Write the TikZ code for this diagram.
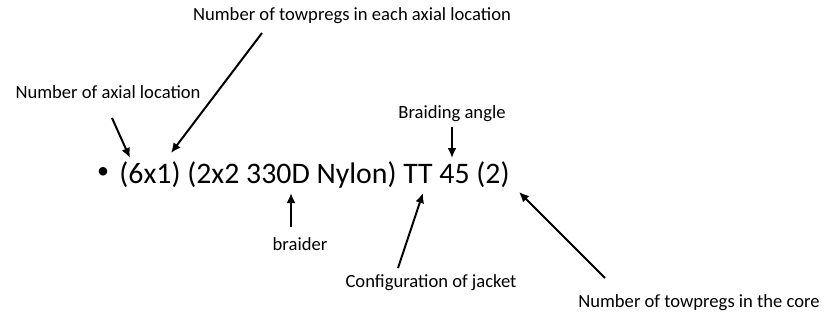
\documentclass[tikz,border=0pt]{standalone}
\usepackage{fontspec}
\setmainfont{Carlito}
\usetikzlibrary{arrows.meta,positioning}
\tikzset{
    pointer/.style={line width=1pt, -{Latex[length=5pt,width=4.5pt]}},
    note/.style={font=\fontsize{9.3}{11}\selectfont, inner sep=0pt, anchor=base},
    code/.style={font=\fontsize{14.9}{18}\selectfont, inner sep=0pt}
}

\begin{document}
\begin{tikzpicture}[x=0.5pt,y=-0.5pt]
    \useasboundingbox (0,0) rectangle (831,321);

    % Draw the code line.
    \node[font=\fontsize{12}{14}\selectfont, inner sep=0pt] (dot) at (103,173) {•};
    \node[code, anchor=base west] (spec) at (119,183) {(6x1) (2x2 330D Nylon) TT 45 (2)};

    % Draw the labels.
    \node[note] (each) at (352,20) {Number of towpregs in each axial location};
    \node[note] (axial) at (108,98) {Number of axial location};
    \node[note] (angle) at (452,118) {Braiding angle};
    \node[note] (braider) at (300,250) {braider};
    \node[note] (jacket) at (431,287) {Configuration of jacket};
    \node[note] (core) at (699,307) {Number of towpregs in the core};

    % Arrow ends.
    \coordinate (axialtail) at (112,118);  \coordinate (axialtip) at (130,158);
    \coordinate (eachtail) at (262,33);    \coordinate (eachtip) at (171,153);
    \coordinate (angletail) at (452,127);  \coordinate (angletip) at (452,158);
    \coordinate (braidtail) at (291,227);  \coordinate (braidtip) at (291,193);
    \coordinate (jackettail) at (398,268); \coordinate (jackettip) at (423,193);
    \coordinate (coretail) at (605,278);   \coordinate (coretip) at (519,192);

    % Draw the arrows.
    \foreach \n in {axial,each,angle,braid,jacket,core}
        \draw[pointer] (\n tail) -- (\n tip);
\end{tikzpicture}
\end{document}
